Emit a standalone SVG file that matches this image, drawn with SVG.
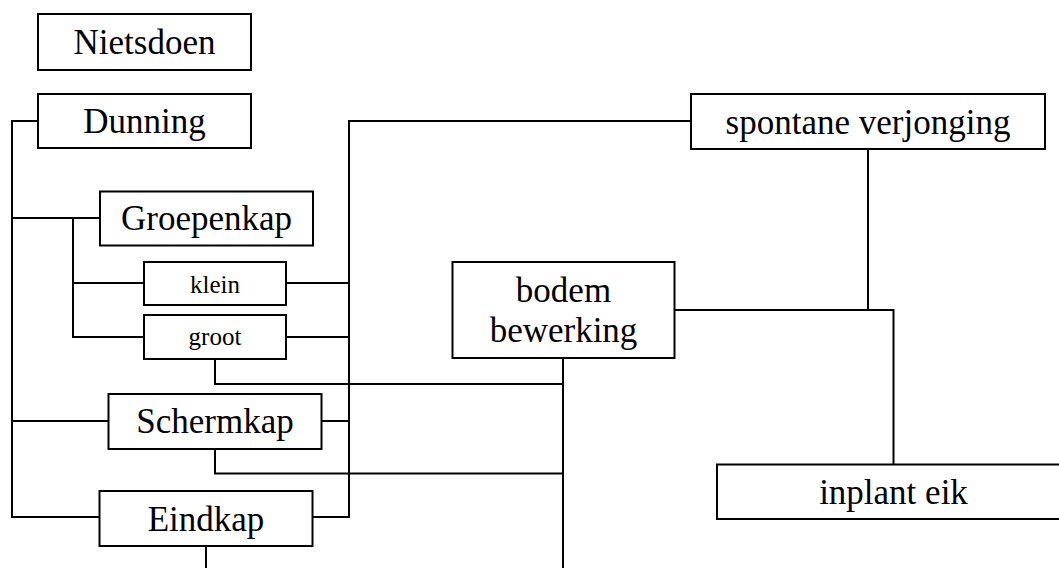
<svg xmlns="http://www.w3.org/2000/svg" width="1059" height="568" viewBox="0 0 1059 568" font-family="Liberation Serif, Times New Roman, serif">
<style>
.box{fill:#fff;stroke:#000;stroke-width:2}
.ln{fill:none;stroke:#000;stroke-width:2}
text{fill:#000;text-anchor:middle;font-family:"Liberation Serif","Times New Roman",serif}
.big{font-size:35px}
.sm{font-size:25px}
</style>
<rect width="1059" height="568" fill="#fff"/>
<g id="connectors">
<path class="ln" d="M38,121 H12 V517 H100 M12,218 H100 M12,421 H108"/>
<path class="ln" d="M100,218 H73 V337 H144 M73,283 H144"/>
<path class="ln" d="M286,283 H349 M286,337 H349 M322,421 H349 M313,517 H349 V121 H691"/>
<path class="ln" d="M215,359 V384 H563 M215,449 V473.5 H563"/>
<path class="ln" d="M563,358 V568"/>
<path class="ln" d="M206,546 V568"/>
<path class="ln" d="M674,310 H893.5 V465 M868,149 V310"/>
</g>
<g id="nietsdoen"><rect class="box" x="38" y="14" width="213" height="56"/><text class="big" x="144.5" y="54.3">Nietsdoen</text></g>
<g id="dunning"><rect class="box" x="38" y="94" width="213" height="54"/><text class="big" x="144.5" y="132.7">Dunning</text></g>
<g id="groepenkap"><rect class="box" x="100" y="191.5" width="213" height="54"/><text class="big" x="206.5" y="230">Groepenkap</text></g>
<g id="klein"><rect class="box" x="144" y="262" width="142" height="43"/><text class="sm" x="215" y="293.3">klein</text></g>
<g id="groot"><rect class="box" x="144" y="315" width="142" height="44"/><text class="sm" x="215" y="345">groot</text></g>
<g id="schermkap"><rect class="box" x="108.5" y="394" width="213" height="55"/><text class="big" x="215" y="433.3">Schermkap</text></g>
<g id="eindkap"><rect class="box" x="99.5" y="491" width="213" height="55"/><text class="big" x="206" y="530.7">Eindkap</text></g>
<g id="bodem"><rect class="box" x="452.5" y="262" width="222" height="96"/><text class="big" x="563.5" y="301.7">bodem</text><text class="big" x="563.5" y="341.7">bewerking</text></g>
<g id="spontane"><rect class="box" x="691" y="94" width="354" height="55"/><text class="big" x="868" y="134">spontane verjonging</text></g>
<g id="inplant"><rect class="box" x="717" y="464.5" width="360" height="54.5"/><text class="big" x="893.5" y="504">inplant eik</text></g>
</svg>
